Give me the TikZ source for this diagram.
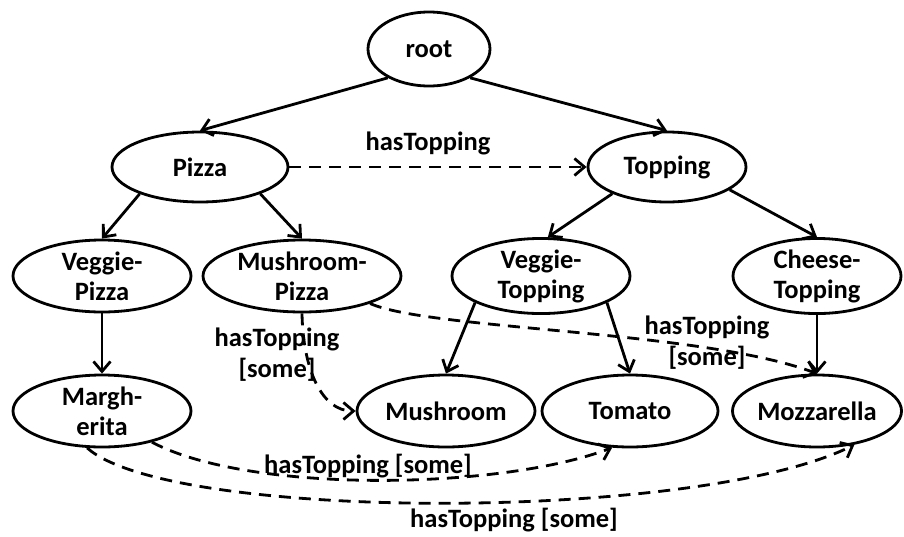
\documentclass[tikz,border=0pt]{standalone}
\usepackage{fontspec}
\setmainfont{Carlito}
\usetikzlibrary{shapes.geometric,arrows.meta}
\begin{document}
\begin{tikzpicture}[x=1pt,y=-1pt,
  cls/.style={ellipse,draw,line width=2.8pt,inner sep=0pt,align=center,
    font=\fontsize{26.5}{30}\selectfont\bfseries},
  isa/.style={line width=2.8pt,-{Straight Barb[length=10pt,width=17pt,line width=2.8pt]}},
  rel/.style={line width=2.8pt,dash pattern=on 12pt off 8pt,-{Straight Barb[length=10pt,width=17pt,line width=2.8pt]}},
  lbl/.style={inner sep=0pt,align=center,font=\fontsize{26.5}{31}\selectfont\bfseries}]
\useasboundingbox (0,0) rectangle (904,536);
\node[cls,minimum width=122pt,minimum height=74pt] (root) at (429,49) {root};
\node[cls,minimum width=176pt,minimum height=70pt] (pizza) at (200,167) {Pizza};
\node[cls,minimum width=158pt,minimum height=70pt] (topping) at (667,167) {Topping};
\node[cls,minimum width=178pt,minimum height=72pt] (vp) at (102,276) {Veggie-\\Pizza};
\node[cls,minimum width=198pt,minimum height=72pt] (mp) at (302,276) {Mushroom-\\Pizza};
\node[cls,minimum width=178pt,minimum height=72pt] (vt) at (541,276) {Veggie-\\Topping};
\node[cls,minimum width=168pt,minimum height=72pt] (ct) at (817,276) {Cheese-\\Topping};
\node[cls,minimum width=178pt,minimum height=72pt] (marg) at (102,411) {Margh-\\erita};
\node[cls,minimum width=178pt,minimum height=72pt] (mush) at (446,411) {Mushroom};
\node[cls,minimum width=176pt,minimum height=72pt] (tom) at (630,411) {Tomato};
\node[cls,minimum width=168pt,minimum height=72pt] (mozz) at (817,411) {Mozzarella};
% taxonomy
\draw[isa] (root.-145) -- (pizza.north);
\draw[isa] (root.-35) -- (topping.north);
\draw[isa] (pizza.-156) -- (vp.north);
\draw[isa] (pizza.-24) -- (mp.north);
\draw[isa] (topping.-154) -- (vt.80);
\draw[isa] (topping.-20) -- (ct.north);
\draw[isa] (vp.south) -- (marg.north);
\draw[isa] (vt.-158) -- (mush.north);
\draw[isa] (vt.-22) -- (tom.north);
\draw[isa] (ct.south) -- (mozz.north);
% relations
\draw[rel] (pizza.east) -- (topping.west);
\node[lbl] (l1) at (428,143) {hasTopping};
\draw[rel] (mp.south) .. controls (303,370) and (322,411) .. (mush.west);
\node[lbl] (l2) at (277,355) {hasTopping\\{[some]}};
\draw[rel] (mp.-22) .. controls (430,330) and (700,330) .. (mozz.north);
\node[lbl] (l3) at (707,343) {hasTopping\\{[some]}};
\draw[rel] (marg.-32) .. controls (250,494) and (500,490) .. (tom.-116);
\node[lbl] (l4) at (368,466) {hasTopping [some]};
\draw[rel] (marg.-112) .. controls (170,522) and (700,522) .. (mozz.-42);
\node[lbl] (l5) at (514,520) {hasTopping [some]};
\end{tikzpicture}
\end{document}
